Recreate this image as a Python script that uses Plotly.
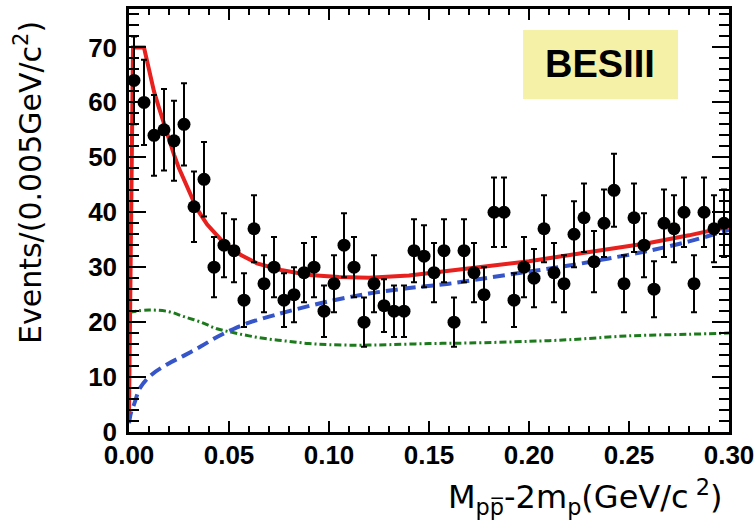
import numpy as np
import plotly.graph_objects as go

# ---- data ----
bin_centers = [0.0025, 0.0075, 0.0125, 0.0175, 0.0225, 0.0275, 0.0325, 0.0375, 0.0425, 0.0475,
               0.0525, 0.0575, 0.0625, 0.0675, 0.0725, 0.0775, 0.0825, 0.0875, 0.0925, 0.0975,
               0.1025, 0.1075, 0.1125, 0.1175, 0.1225, 0.1275, 0.1325, 0.1375, 0.1425, 0.1475,
               0.1525, 0.1575, 0.1625, 0.1675, 0.1725, 0.1775, 0.1825, 0.1875, 0.1925, 0.1975,
               0.2025, 0.2075, 0.2125, 0.2175, 0.2225, 0.2275, 0.2325, 0.2375, 0.2425, 0.2475,
               0.2525, 0.2575, 0.2625, 0.2675, 0.2725, 0.2775, 0.2825, 0.2875, 0.2925, 0.2975]
counts = [64, 60, 54, 55, 53, 56, 41, 46, 30, 34,
          33, 24, 37, 27, 30, 24, 25, 29, 30, 22,
          27, 34, 30, 20, 27, 23, 22, 22, 33, 32,
          29, 33, 20, 33, 29, 25, 40, 40, 24, 30,
          28, 37, 29, 27, 36, 39, 31, 38, 44, 27,
          39, 34, 26, 38, 37, 40, 27, 40, 37, 38]
errors = list(np.sqrt(counts))

total_x = [0.0, 0.002, 0.0075, 0.010, 0.0125, 0.015, 0.0175, 0.020, 0.0225, 0.025, 0.029, 0.034,
           0.039, 0.047, 0.056, 0.064, 0.076, 0.090, 0.105, 0.120, 0.140, 0.160, 0.180, 0.200,
           0.220, 0.240, 0.260, 0.280, 0.300]
total_y = [3.5, 70.0, 70.0, 66.0, 62.0, 59.0, 56.0, 53.0, 50.5, 48.0, 44.6, 40.6,
           37.8, 34.6, 32.2, 30.7, 29.5, 28.6, 28.2, 28.1, 28.5, 29.3, 30.2, 31.1,
           32.2, 33.2, 34.4, 35.8, 37.4]

bkg_x = [0.0, 0.001, 0.0027, 0.0055, 0.0105, 0.019, 0.0275, 0.036, 0.044, 0.052, 0.060, 0.070,
         0.080, 0.100, 0.120, 0.140, 0.160, 0.180, 0.200, 0.220, 0.240, 0.260, 0.280, 0.300]
bkg_y = [1.6, 3.5, 5.2, 8.0, 10.2, 12.3, 13.9, 15.6, 17.3, 18.7, 19.9, 21.0,
         22.0, 23.8, 25.2, 26.2, 27.0, 28.1, 29.2, 30.3, 31.6, 33.0, 34.7, 36.8]

other_x = [0.0, 0.010, 0.020, 0.0275, 0.036, 0.044, 0.052, 0.060, 0.070, 0.080, 0.090, 0.100,
           0.115, 0.130, 0.150, 0.170, 0.200, 0.220, 0.250, 0.280, 0.300]
other_y = [21.8, 22.2, 21.9, 21.0, 20.0, 18.8, 18.1, 17.5, 16.9, 16.5, 16.1, 15.9,
           15.8, 15.9, 16.1, 16.2, 16.5, 16.8, 17.5, 17.8, 18.0]

x_ticks = [0.0, 0.05, 0.10, 0.15, 0.20, 0.25, 0.30]
x_tick_text = ["0.00", "0.05", "0.10", "0.15", "0.20", "0.25", "0.30"]
y_ticks = [0, 10, 20, 30, 40, 50, 60, 70]
x_range = [0, 0.3]
y_range = [0, 77]

fig = go.Figure()
fig.add_trace(go.Scatter(x=other_x, y=other_y, mode="lines", line_shape="spline",
                         line=dict(color="#1c7a1c", width=3, dash="7px,3px,2px,3px"),
                         showlegend=False, hoverinfo="skip"))
fig.add_trace(go.Scatter(x=bkg_x, y=bkg_y, mode="lines", line_shape="spline",
                         line=dict(color="#3555c8", width=4, dash="12px,6px"),
                         showlegend=False, hoverinfo="skip"))
fig.add_trace(go.Scatter(x=total_x, y=total_y, mode="lines",
                         line=dict(color="#e8201e", width=4),
                         showlegend=False, hoverinfo="skip"))
fig.add_trace(go.Scatter(x=bin_centers, y=counts, mode="markers",
                         marker=dict(color="black", size=13),
                         error_y=dict(type="data", array=errors, visible=True,
                                      color="black", thickness=2, width=3),
                         showlegend=False))
# empty trace so the mirrored (top/right) tick axes are drawn
fig.add_trace(go.Scatter(x=[None], y=[None], xaxis="x2", yaxis="y2", mode="markers",
                         showlegend=False, hoverinfo="skip"))

tickfont = dict(family="Liberation Sans, Arial, sans-serif", size=26, color="black", weight="bold")

xmajor = dict(ticks="inside", ticklen=11, tickwidth=2, tickcolor="black")
xminor = dict(dtick=0.01, ticks="inside", ticklen=6, tickwidth=2, tickcolor="black")
ymajor = dict(ticks="inside", ticklen=17, tickwidth=2, tickcolor="black")
yminor = dict(dtick=2, ticks="inside", ticklen=10, tickwidth=2, tickcolor="black")

fig.update_layout(
    xaxis=dict(range=x_range, tickvals=x_ticks, ticktext=x_tick_text,
               showline=True, linecolor="black", linewidth=2.5, mirror=True,
               minor=xminor, showgrid=False, zeroline=False, tickfont=tickfont,
               ticklabelstandoff=-2, ticklabeloverflow="allow", automargin=False, **xmajor),
    yaxis=dict(range=y_range, tickvals=y_ticks,
               showline=True, linecolor="black", linewidth=2.5, mirror=True,
               minor=yminor, showgrid=False, zeroline=False, tickfont=tickfont,
               ticklabelstandoff=4, ticklabeloverflow="allow", automargin=False, **ymajor),
    xaxis2=dict(range=x_range, tickvals=x_ticks, overlaying="x", side="top", anchor="y",
                showticklabels=False, showline=False, showgrid=False, zeroline=False,
                automargin=False, minor=xminor, **xmajor),
    yaxis2=dict(range=y_range, tickvals=y_ticks, overlaying="y", side="right", anchor="x",
                showticklabels=False, showline=False, showgrid=False, zeroline=False,
                automargin=False, minor=yminor, **ymajor),
)

L, R, T, B = 129, 25, 9, 91
W, H = 754, 523
pw, ph = W - L - R, H - T - B

def px_x(p):
    return (p - L) / pw

def px_y(p):
    return (H - B - p) / ph

fig.add_shape(type="rect", xref="paper", yref="paper",
              x0=px_x(523), x1=px_x(678), y0=px_y(99), y1=px_y(30),
              fillcolor="#f5f2a8", line=dict(width=0), layer="above")
fig.add_annotation(x=px_x(600), y=px_y(64), xref="paper", yref="paper",
                   text="<b>BESIII</b>", showarrow=False, xanchor="center", yanchor="middle",
                   font=dict(family="Liberation Sans, Arial, sans-serif", size=38, color="black"))

fig.add_annotation(x=px_x(28), y=px_y(183), xref="paper", yref="paper",
                   text="Events/(0.005GeV/c<sup>2</sup>)", textangle=-90, showarrow=False,
                   xanchor="center", yanchor="middle",
                   font=dict(family="DejaVu Sans, sans-serif", size=30, color="black"))
fig.add_annotation(x=px_x(724), y=px_y(497), xref="paper", yref="paper",
                   text="M<sub>pp\u0305</sub>-2m<sub>p</sub>(GeV/c<sup> 2</sup>)", showarrow=False,
                   xanchor="right", yanchor="middle",
                   font=dict(family="DejaVu Sans, sans-serif", size=32, color="black"))

fig.update_layout(width=W, height=H, margin=dict(l=L, r=R, t=T, b=B, autoexpand=False),
                  paper_bgcolor="white", plot_bgcolor="white", showlegend=False)

fig.write_html("out.html")
